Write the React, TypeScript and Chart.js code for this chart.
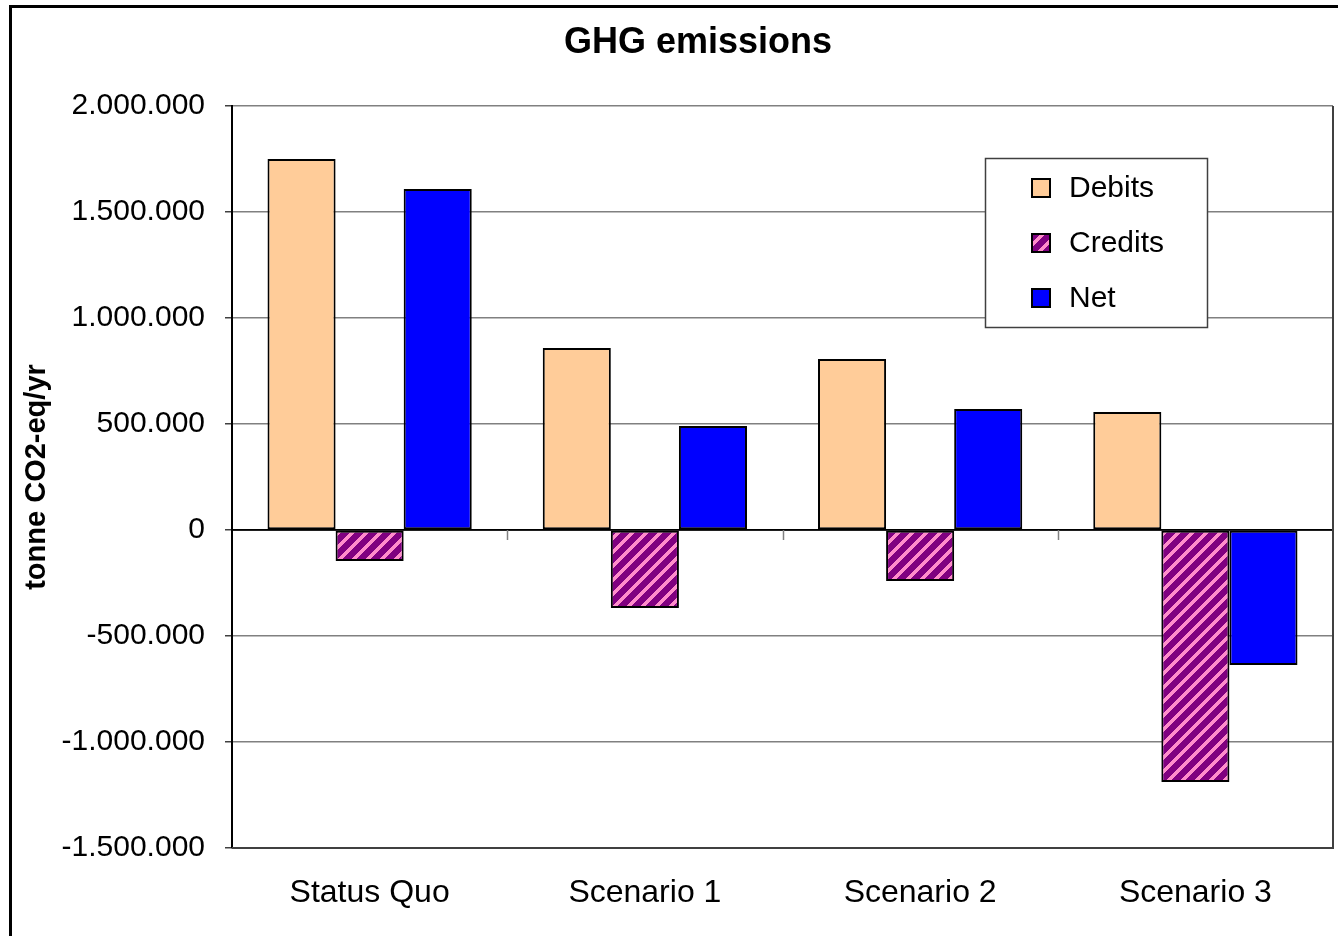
import React, { useEffect, useRef } from "react";
import { Chart, registerables } from "chart.js";

Chart.register(...registerables);

const categories = ["Status Quo", "Scenario 1", "Scenario 2", "Scenario 3"];
const seriesNames = ["Debits", "Credits", "Net"];
const debits = [1750000, 858000, 807000, 557000];
const credits = [-146000, -368000, -240000, -1189000];
const net = [1608000, 490000, 571000, -637000];
const yMin = -1500000;
const yMax = 2000000;
const yStep = 500000;
const titleText = "GHG emissions";
const yTitle = "tonne CO2-eq/yr";

const FONT = "Arial, 'Liberation Sans', sans-serif";

function formatNum(v: number): string {
  const neg = v < 0;
  const s = Math.abs(Math.round(v)).toString();
  const parts: string[] = [];
  for (let i = s.length; i > 0; i -= 3) parts.unshift(s.slice(Math.max(0, i - 3), i));
  return (neg ? "-" : "") + parts.join(".");
}

function makeHatch(): CanvasPattern | string {
  const size = 14;
  const c = document.createElement("canvas");
  c.width = size;
  c.height = size;
  const g = c.getContext("2d");
  if (!g) return "#800080";
  g.fillStyle = "#800080";
  g.fillRect(0, 0, size, size);
  g.fillStyle = "#FF8CCB";
  for (let y = 0; y < size; y++) {
    for (let x = 0; x < size; x++) {
      if ((x + y) % size < 5) g.fillRect(x, y, 1, 1);
    }
  }
  const p = g.createPattern(c, "repeat");
  return p || "#800080";
}

export default function App() {
  const ref = useRef<HTMLCanvasElement | null>(null);

  useEffect(() => {
    const canvas = ref.current;
    if (!canvas) return;
    const hatch = makeHatch();
    const colors: any[] = ["#FFCC99", hatch, "#0000FF"];

    const decorPlugin = {
      id: "decor",
      beforeDraw(chart: any) {
        const ctx = chart.ctx;
        ctx.save();
        ctx.fillStyle = "#ffffff";
        ctx.fillRect(0, 0, chart.width, chart.height);
        ctx.restore();
      },
      afterDatasetsDraw(chart: any) {
        const ctx = chart.ctx;
        const { chartArea } = chart;
        const xs = chart.scales.x;
        const ys = chart.scales.y;
        const y0 = ys.getPixelForValue(0);
        ctx.save();
        ctx.strokeStyle = "#000000";
        ctx.lineWidth = 1.5;
        ctx.beginPath();
        ctx.moveTo(chartArea.left, y0);
        ctx.lineTo(chartArea.right, y0);
        ctx.stroke();
        ctx.strokeStyle = "#808080";
        ctx.lineWidth = 1.5;
        for (let i = 0; i < categories.length - 1; i++) {
          const xb = (xs.getPixelForValue(i) + xs.getPixelForValue(i + 1)) / 2;
          ctx.beginPath();
          ctx.moveTo(Math.round(xb) + 0.5, y0);
          ctx.lineTo(Math.round(xb) + 0.5, y0 + 10);
          ctx.stroke();
        }
        ctx.restore();
      },
      afterDraw(chart: any) {
        const ctx = chart.ctx;
        const { chartArea } = chart;
        ctx.save();
        ctx.strokeStyle = "#404040";
        ctx.lineWidth = 2;
        ctx.beginPath();
        ctx.moveTo(chartArea.right, chartArea.top);
        ctx.lineTo(chartArea.right, chartArea.bottom);
        ctx.lineTo(chartArea.left, chartArea.bottom);
        ctx.stroke();
        ctx.fillStyle = "#000000";
        ctx.fillRect(9, 5, chart.width, 3);
        ctx.fillRect(9, 5, 3, chart.height);
        ctx.fillStyle = "#000000";
        ctx.font = `bold 36px ${FONT}`;
        ctx.textAlign = "center";
        ctx.textBaseline = "alphabetic";
        ctx.fillText(titleText, 698, 53);
        const lx = 985, ly = 158, lw = 222, lh = 169;
        ctx.fillStyle = "#ffffff";
        ctx.fillRect(lx, ly, lw, lh);
        ctx.strokeStyle = "#404040";
        ctx.lineWidth = 1.5;
        ctx.strokeRect(lx + 0.5, ly + 0.5, lw, lh);
        ctx.font = `30px ${FONT}`;
        ctx.textAlign = "left";
        ctx.textBaseline = "middle";
        chart.data.datasets.forEach((ds: any, i: number) => {
          const cy = 188 + i * 55;
          ctx.fillStyle = ds.backgroundColor;
          ctx.fillRect(1032, cy - 9, 18, 18);
          ctx.strokeStyle = "#000000";
          ctx.lineWidth = 2;
          ctx.strokeRect(1032, cy - 9, 18, 18);
          ctx.fillStyle = "#000000";
          ctx.fillText(ds.label, 1069, cy + 1);
        });
        ctx.restore();
      },
    };

    const chart = new Chart(canvas, {
      type: "bar",
      data: {
        labels: categories,
        datasets: [debits, credits, net].map((vals, i) => ({
          label: seriesNames[i],
          data: vals,
          backgroundColor: colors[i],
          borderColor: "#000000",
          borderWidth: 2,
          borderSkipped: false,
          categoryPercentage: 0.742,
          barPercentage: 1.0,
        })),
      },
      options: {
        responsive: false,
        animation: false,
        devicePixelRatio: 1,
        layout: { padding: { left: 0, top: 106, right: 5, bottom: 0 } },
        plugins: {
          legend: { display: false },
          title: { display: false },
          tooltip: { enabled: false },
        },
        scales: {
          x: {
            grid: { display: false, drawTicks: false },
            border: { display: false },
            ticks: {
              color: "#000000",
              font: { family: FONT, size: 32 },
              padding: 26,
              maxRotation: 0,
            },
            afterFit(scale: any) {
              scale.height = 88;
            },
          },
          y: {
            min: yMin,
            max: yMax,
            ticks: {
              stepSize: yStep,
              color: "#000000",
              font: { family: FONT, size: 30 },
              padding: 20,
              callback: (v: any) => formatNum(Number(v)),
            },
            grid: {
              color: (c: any) => (c.tick && c.tick.value === 0 ? "#000000" : "#808080"),
              lineWidth: 1.5,
              tickLength: 7,
              tickColor: "#404040",
            },
            border: { display: true, color: "#000000", width: 2 },
            title: {
              display: true,
              text: yTitle,
              color: "#000000",
              font: { family: FONT, size: 29, weight: "bold" },
              padding: { top: 20, bottom: 0 },
            },
            afterFit(scale: any) {
              scale.width = 232;
            },
          },
        },
      },
      plugins: [decorPlugin],
    });

    return () => chart.destroy();
  }, []);

  return (
    <div style={{ position: "absolute", left: 0, top: 0, width: 1338, height: 936 }}>
      <canvas ref={ref} width={1338} height={936} style={{ display: "block" }} />
    </div>
  );
}
